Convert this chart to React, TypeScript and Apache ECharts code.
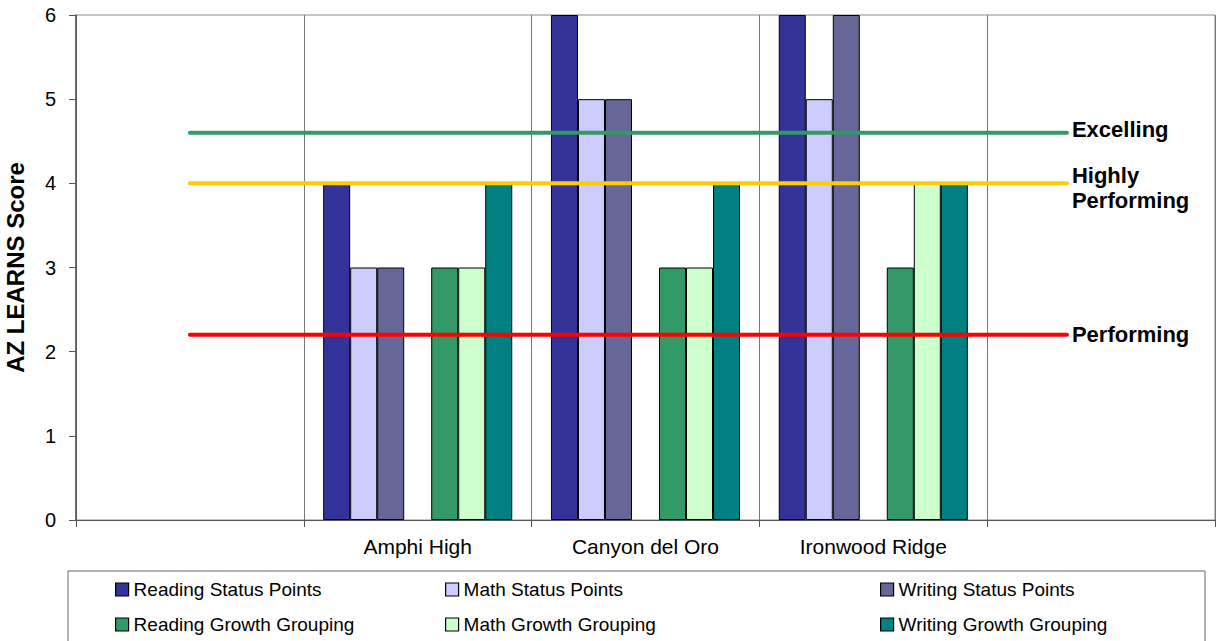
import React, { useEffect, useRef } from "react";
import * as echarts from "echarts";

const categories = ["", "Amphi High", "Canyon del Oro", "Ironwood Ridge", ""];
const readingStatus = [null, 4, 6, 6, null];
const mathStatus = [null, 3, 5, 5, null];
const writingStatus = [null, 3, 5, 6, null];
const readingGrowth = [null, 3, 3, 3, null];
const mathGrowth = [null, 3, 3, 4, null];
const writingGrowth = [null, 4, 4, 4, null];

const barNames = [
  "Reading Status Points",
  "Math Status Points",
  "Writing Status Points",
  "Reading Growth Grouping",
  "Math Growth Grouping",
  "Writing Growth Grouping",
];
const barColors = ["#333399", "#CCCCFF", "#666699", "#339966", "#CCFFCC", "#008080"];

const thresholdNames = ["Excelling", "Highly\nPerforming", "Performing"];
const thresholdValues = [4.6, 4.0, 2.2];
const thresholdColors = ["#339966", "#FFCC00", "#FF0000"];
const lineStartX = 0.5;
const lineEndX = 4.35;

const FONT = "Arial, 'Liberation Sans', sans-serif";

export default function App() {
  const ref = useRef<HTMLDivElement>(null);

  useEffect(() => {
    if (!ref.current) return;
    const chart = echarts.init(ref.current, undefined, { renderer: "svg" });

    const barData = [readingStatus, mathStatus, writingStatus, readingGrowth, mathGrowth, writingGrowth];

    const barSeries: any[] = [];
    barData.forEach((d, i) => {
      barSeries.push({
        type: "bar",
        name: barNames[i],
        data: d,
        xAxisIndex: 0,
        yAxisIndex: 0,
        barGap: "0%",
        barCategoryGap: "17%",
        itemStyle: { color: barColors[i], borderColor: "#000", borderWidth: 1 },
        emphasis: { disabled: true },
        z: 2,
      });
      if (i === 2) {
        barSeries.push({
          type: "bar",
          name: "__gap",
          data: categories.map(() => null),
          xAxisIndex: 0,
          yAxisIndex: 0,
          barGap: "0%",
          barCategoryGap: "17%",
          itemStyle: { color: "transparent" },
          z: 2,
        });
      }
    });

    const labelOffsets = [-3, 5, 0];
    const lineSeries = thresholdValues.map((v, i) => ({
      type: "line",
      name: thresholdNames[i],
      xAxisIndex: 1,
      yAxisIndex: 0,
      data: [
        [lineStartX, v],
        [lineEndX, v],
      ],
      symbol: "none",
      lineStyle: { color: thresholdColors[i], width: 4, cap: "round" },
      endLabel: {
        show: true,
        formatter: thresholdNames[i],
        distance: 5,
        offset: [0, labelOffsets[i]],
        color: "#000",
        fontWeight: "bold",
        fontSize: 22,
        lineHeight: 25,
        fontFamily: FONT,
      },
      emphasis: { disabled: true },
      z: 5,
    }));

    const legendLefts = [115, 445, 880];
    const legendTops = [580, 615];
    const legends = barNames.map((n, i) => ({
      data: [
        {
          name: n,
          icon: "rect",
          itemStyle: { color: barColors[i], borderColor: "#000", borderWidth: 1.2 },
        },
      ],
      left: legendLefts[i % 3],
      top: legendTops[Math.floor(i / 3)],
      itemWidth: 13,
      itemHeight: 13,
      itemGap: 5,
      padding: 0,
      selectedMode: false,
      textStyle: { fontSize: 19, color: "#000", fontFamily: FONT },
    }));

    chart.setOption({
      animation: false,
      backgroundColor: "#fff",
      grid: {
        left: 76,
        top: 15,
        right: 1,
        bottom: 121,
        containLabel: false,
        outerBoundsMode: "none",
        show: true,
        borderColor: "#888",
        borderWidth: 1,
        backgroundColor: "transparent",
      },
      legend: legends,
      xAxis: [
        {
          type: "category",
          data: categories,
          boundaryGap: true,
          axisLine: { show: true, lineStyle: { color: "#555", width: 1 } },
          axisTick: { show: true, interval: 0, length: 7, lineStyle: { color: "#555" } },
          splitLine: { show: true, interval: 0, lineStyle: { color: "#777", width: 1 } },
          axisLabel: { interval: 0, fontSize: 21, color: "#000", margin: 16, fontFamily: FONT },
        },
        { type: "value", min: 0, max: 5, show: false },
      ],
      yAxis: {
        type: "value",
        min: 0,
        max: 6,
        interval: 1,
        name: "AZ LEARNS Score",
        nameLocation: "middle",
        nameGap: 49,
        nameRotate: 90,
        nameTextStyle: { fontSize: 24, fontWeight: "bold", color: "#000", fontFamily: FONT },
        axisLine: { show: true, lineStyle: { color: "#555", width: 1.5 } },
        axisTick: { show: true, length: 7, lineStyle: { color: "#555" } },
        splitLine: { show: false },
        axisLabel: { fontSize: 20, color: "#000", margin: 20, fontFamily: FONT },
      },
      graphic: [
        {
          type: "rect",
          shape: { x: 68, y: 571, width: 1137, height: 80 },
          style: { fill: "#fff", stroke: "#666", lineWidth: 1 },
          z: -1,
          silent: true,
        },
      ],
      series: [...barSeries, ...lineSeries],
    });

    return () => chart.dispose();
  }, []);

  return (
    <div
      ref={ref}
      style={{ position: "absolute", left: 0, top: 0, width: 1216, height: 641 }}
    />
  );
}
